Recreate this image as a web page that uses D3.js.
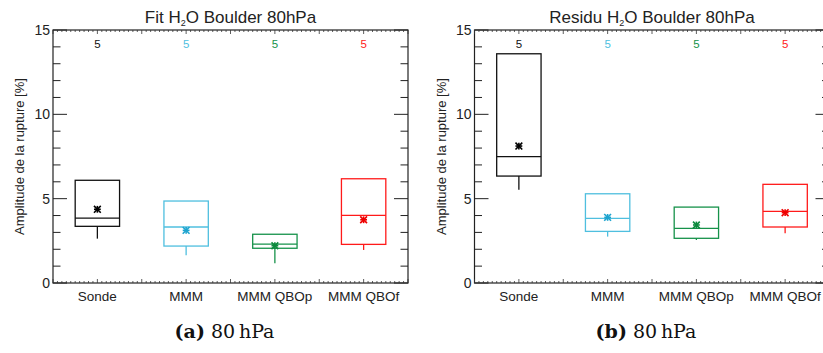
<!DOCTYPE html>
<html>
<head>
<meta charset="utf-8">
<script src="https://cdn.jsdelivr.net/npm/d3@7"></script>
<style>
  body { margin: 0; background: #fff; }
  svg { display: block; font-family: "Liberation Sans", Arial, sans-serif; }
</style>
</head>
<body>
<svg id="chart" width="823" height="353"></svg>
<script>
const CATEGORIES = ['Sonde', 'MMM', 'MMM QBOp', 'MMM QBOf'];
const COLORS = ['#111111', '#4fbfdf', '#16924a', '#ff1a1a'];
const MEAN_COLORS = ['#000000', '#1ea4cf', '#0d8a3e', '#ee0000'];
const COUNTS = [5, 5, 5, 5];
const Y_TICKS = [0, 5, 10, 15];

// [min, q1, median, q3, max, mean]
const FIT_STATS = [
  [2.63, 3.36, 3.85, 6.09, 6.09, 4.37],
  [1.64, 2.19, 3.32, 4.86, 4.86, 3.12],
  [1.17, 2.06, 2.31, 2.89, 2.89, 2.21],
  [1.96, 2.29, 4.01, 6.18, 6.18, 3.75]
];
const RESIDU_STATS = [
  [5.53, 6.34, 7.49, 13.59, 13.59, 8.12],
  [2.75, 3.06, 3.83, 5.29, 5.29, 3.89],
  [2.55, 2.65, 3.24, 4.50, 4.50, 3.44],
  [2.95, 3.32, 4.25, 5.85, 5.85, 4.17]
];

const svg = d3.select('#chart');

function panel(left, titleMain, stats, caption) {
  const W = 355, top = 30, bottom = 283;
  const g = svg.append('g');
  const x = d3.scaleBand().domain(CATEGORIES).range([left, left + W]).padding(0);
  const y = d3.scaleLinear().domain([0, 15]).range([bottom, top]);

  // frame
  g.append('rect').attr('x', left).attr('y', top).attr('width', W).attr('height', bottom - top)
    .attr('fill', 'none').attr('stroke', '#222').attr('stroke-width', 1.2);

  // y ticks, inward on both sides
  d3.range(0, 16).forEach(v => {
    const len = v % 5 === 0 ? 14 : 7.5;
    g.append('line').attr('x1', left).attr('x2', left + len).attr('y1', y(v)).attr('y2', y(v))
      .attr('stroke', '#222').attr('stroke-width', 1);
    g.append('line').attr('x1', left + W).attr('x2', left + W - len).attr('y1', y(v)).attr('y2', y(v))
      .attr('stroke', '#222').attr('stroke-width', 1);
  });
  g.selectAll('text.yt').data(Y_TICKS).join('text').attr('class', 'yt')
    .attr('x', left - 3).attr('y', d => y(d)).attr('dy', '0.35em')
    .attr('text-anchor', 'end').attr('font-size', 14).attr('fill', '#222').text(d => d);

  // x minor ticks along top and bottom
  const step = x.bandwidth() / 20;
  d3.range(0, 81).forEach(i => {
    const xx = left + i * step;
    const len = i % 10 === 0 ? 4 : 2;
    g.append('line').attr('x1', xx).attr('x2', xx).attr('y1', bottom).attr('y2', bottom - len)
      .attr('stroke', '#333').attr('stroke-width', 0.8);
    g.append('line').attr('x1', xx).attr('x2', xx).attr('y1', top).attr('y2', top + len)
      .attr('stroke', '#333').attr('stroke-width', 0.8);
  });

  // category labels
  g.selectAll('text.xl').data(CATEGORIES).join('text').attr('class', 'xl')
    .attr('x', d => x(d) + x.bandwidth() / 2).attr('y', 301)
    .attr('text-anchor', 'middle').attr('font-size', 13.5).attr('fill', '#222').text(d => d);

  // counts
  g.selectAll('text.n').data(COUNTS).join('text').attr('class', 'n')
    .attr('x', (d, i) => x(CATEGORIES[i]) + x.bandwidth() / 2).attr('y', 48)
    .attr('text-anchor', 'middle').attr('font-size', 11.5).attr('fill', (d, i) => COLORS[i]).text(d => d);

  // boxes
  const bw = x.bandwidth() / 2;
  stats.forEach((s, i) => {
    const cx = x(CATEGORIES[i]) + x.bandwidth() / 2;
    const c = COLORS[i];
    const [mn, q1, med, q3, mx, mean] = s;
    g.append('rect').attr('x', cx - bw / 2).attr('y', y(q3)).attr('width', bw).attr('height', y(q1) - y(q3))
      .attr('fill', 'none').attr('stroke', c).attr('stroke-width', 1.3);
    g.append('line').attr('x1', cx - bw / 2).attr('x2', cx + bw / 2).attr('y1', y(med)).attr('y2', y(med))
      .attr('stroke', c).attr('stroke-width', 1.3);
    g.append('line').attr('x1', cx).attr('x2', cx).attr('y1', y(q1)).attr('y2', y(mn))
      .attr('stroke', c).attr('stroke-width', 1.3);
    g.append('line').attr('x1', cx).attr('x2', cx).attr('y1', y(q3)).attr('y2', y(mx))
      .attr('stroke', c).attr('stroke-width', 1.3);
    // asterisk mean marker
    const r = 3.4, m = g.append('g').attr('transform', `translate(${cx},${y(mean)})`)
      .attr('stroke', MEAN_COLORS[i]).attr('stroke-width', 1.6);
    [[-r, 0, r, 0], [0, -r, 0, r], [-r, -r, r, r], [-r, r, r, -r]].forEach(p =>
      m.append('line').attr('x1', p[0]).attr('y1', p[1]).attr('x2', p[2]).attr('y2', p[3]));
  });

  // title with subscript
  const t = g.append('text').attr('x', left + W / 2).attr('y', 23).attr('text-anchor', 'middle')
    .attr('font-size', 17).attr('fill', '#222');
  t.append('tspan').text(titleMain + ' H');
  t.append('tspan').attr('font-size', 9).attr('dy', 3).text('2');
  t.append('tspan').attr('dy', -3).text('O Boulder 80hPa');

  // y label
  g.append('text').attr('transform', `translate(${left - 29},${(top + bottom) / 2}) rotate(-90)`)
    .attr('text-anchor', 'middle').attr('font-size', 13).attr('fill', '#222')
    .text('Amplitude de la rupture [%]');

  // caption
  const cap = g.append('text').attr('x', left + W / 2 - 6).attr('y', 338).attr('text-anchor', 'middle')
    .attr('font-family', '"DejaVu Serif", serif').attr('font-size', 19).attr('fill', '#111');
  cap.append('tspan').attr('font-weight', 'bold').text(caption[0]);
  cap.append('tspan').text(' ' + caption[1]);
}

panel(53, 'Fit', FIT_STATS, ['(a)', '80\u2009hPa']);
panel(474.5, 'Residu', RESIDU_STATS, ['(b)', '80\u2009hPa']);
</script>
</body>
</html>
